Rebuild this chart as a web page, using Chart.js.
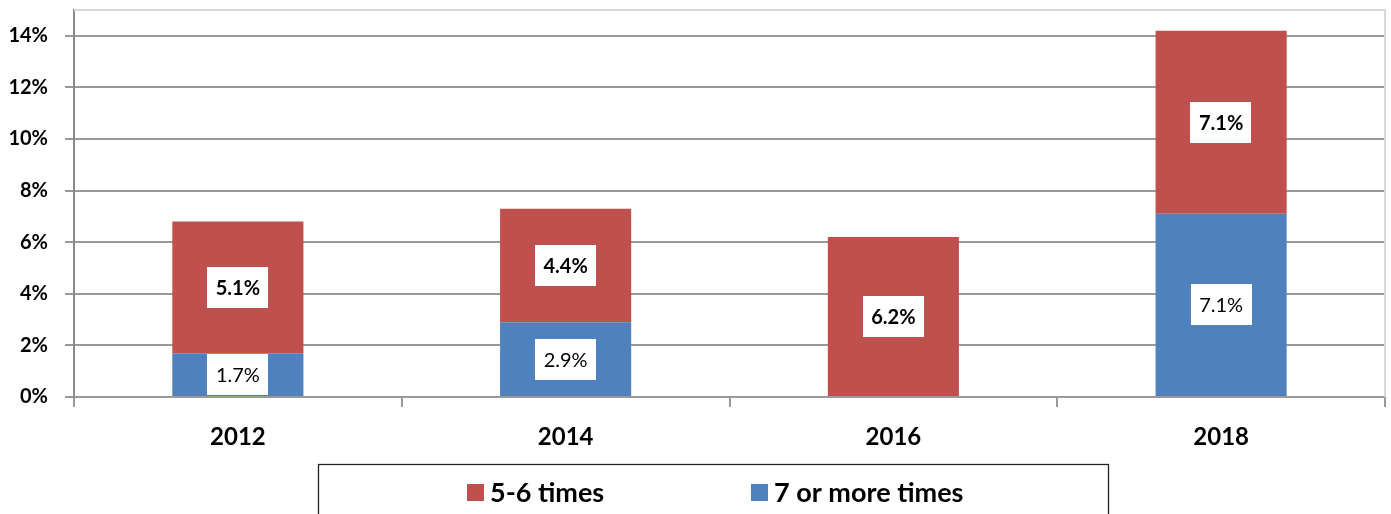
<!DOCTYPE html>
<html>
<head>
<meta charset="utf-8">
<script src="https://cdn.jsdelivr.net/npm/chart.js@4.4.1/dist/chart.umd.min.js"></script>
<style>
  html, body { margin: 0; padding: 0; background: #ffffff; }
  #wrap { width: 1391px; height: 514px; position: relative; }
</style>
</head>
<body>
<div id="wrap"><canvas id="c" width="1391" height="514"></canvas></div>
<script>
const categories = ['2012', '2014', '2016', '2018'];
const sevenOrMore = [1.7, 2.9, 0, 7.1];
const fiveToSix = [5.1, 4.4, 6.2, 7.1];
const yTickValues = [0, 2, 4, 6, 8, 10, 12, 14];
const seriesNames = ['7 or more times', '5-6 times'];
const seriesColors = ['#4F81BD', '#C0504D'];

const FONT = 'Lato, "Open Sans", sans-serif';

const dataLabels = {
  id: 'dataLabels',
  afterDatasetsDraw(chart) {
    const ctx = chart.ctx;
    chart.data.datasets.forEach((ds, di) => {
      const meta = chart.getDatasetMeta(di);
      meta.data.forEach((el, i) => {
        const v = ds.data[i];
        if (!v) return;
        const cy = (el.y + el.base) / 2;
        ctx.save();
        ctx.font = (di === 1 ? 'bold ' : '') + '20px ' + FONT;
        const txt = v.toFixed(1) + '%';
        const w = ctx.measureText(txt).width + 17;
        const h = Math.min(41, Math.abs(el.base - el.y) - 2);
        ctx.fillStyle = '#ffffff';
        ctx.fillRect(Math.round(el.x - w / 2), Math.round(cy - h / 2), Math.round(w), Math.round(h));
        ctx.fillStyle = '#000000';
        ctx.textAlign = 'center';
        ctx.textBaseline = 'middle';
        ctx.fillText(txt, el.x, cy + 1);
        ctx.restore();
      });
    });
  }
};

const frame = {
  id: 'frame',
  beforeDatasetsDraw(chart) {
    const a = chart.chartArea, ctx = chart.ctx;
    ctx.save();
    ctx.strokeStyle = '#d9d9d9';
    ctx.lineWidth = 2;
    ctx.beginPath();
    ctx.moveTo(a.left, a.top);
    ctx.lineTo(a.right, a.top);
    ctx.lineTo(a.right, a.bottom);
    ctx.stroke();
    ctx.restore();
  },
  afterDraw(chart) {
    const ctx = chart.ctx;
    ctx.save();
    ctx.strokeStyle = '#222222';
    ctx.lineWidth = 1.3;
    ctx.strokeRect(318.5, 464.5, 790, 80);
    const items = [1, 0];
    const xs = [467, 751];
    ctx.font = 'bold 27px ' + FONT;
    ctx.textBaseline = 'middle';
    ctx.textAlign = 'left';
    items.forEach((di, k) => {
      const ds = chart.data.datasets[di];
      ctx.fillStyle = ds.backgroundColor;
      ctx.fillRect(xs[k], 484, 17, 17);
      ctx.fillStyle = '#000000';
      ctx.fillText(ds.label, xs[k] + 23, 493);
    });
    ctx.restore();
  }
};

new Chart(document.getElementById('c'), {
  type: 'bar',
  data: {
    labels: categories,
    datasets: [
      { label: seriesNames[0], data: sevenOrMore, backgroundColor: seriesColors[0], stack: 's' },
      { label: seriesNames[1], data: fiveToSix, backgroundColor: seriesColors[1], stack: 's' }
    ]
  },
  options: {
    responsive: false,
    animation: false,
    devicePixelRatio: 1,
    layout: { padding: { top: 10, right: 6, left: 0, bottom: 57 } },
    datasets: { bar: { barPercentage: 1, categoryPercentage: 0.4, borderWidth: 0 } },
    plugins: {
      legend: { display: false },
      tooltip: { enabled: false }
    },
    scales: {
      x: {
        stacked: true,
        offset: true,
        afterFit(s) { s.height = 60; s.paddingLeft = 0; s.paddingRight = 0; },
        grid: { offset: true, drawOnChartArea: false, drawTicks: true, tickLength: 10, color: '#9a9a9a', lineWidth: 2 },
        border: { color: '#9a9a9a', width: 2 },
        ticks: { color: '#000000', font: { family: FONT, size: 24, weight: 'bold' }, padding: 16 }
      },
      y: {
        stacked: true,
        min: 0,
        max: 15,
        ticks: {
          stepSize: 1,
          color: '#000000',
          font: { family: FONT, size: 20, weight: 'bold' },
          padding: 17,
          callback: v => v + '%'
        },
        afterFit(s) { s.width = 74; s.paddingTop = 0; s.paddingBottom = 0; },
        afterBuildTicks(s) { s.ticks = yTickValues.map(v => ({ value: v })); },
        grid: { color: '#9a9a9a', lineWidth: 2, tickLength: 9, drawTicks: true },
        border: { color: '#8c8c8c', width: 2 }
      }
    }
  },
  plugins: [frame, dataLabels]
});
</script>
</body>
</html>
